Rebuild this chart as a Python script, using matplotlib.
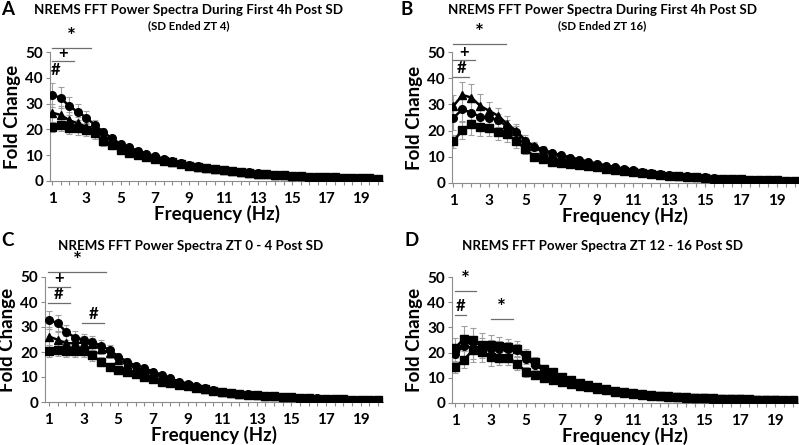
import numpy as np
import matplotlib
matplotlib.use("Agg")
import matplotlib.pyplot as plt

plt.rcParams['font.family'] = ['Lato', 'DejaVu Sans']
plt.rcParams['font.weight'] = 'bold'
WT = 'bold'

# frequency bins (Hz)
freq = np.arange(1, 20.5, 0.5)

# ---- panel A ----
a_circ = [33.3, 32.3, 29.0, 26.8, 24.5, 21.7, 18.9, 16.5, 14.3, 13.0, 11.8, 10.6, 9.6, 8.6, 7.8, 7.0, 6.3, 5.7, 5.2, 4.8,
          4.4, 4.0, 3.6, 3.3, 3.0, 2.7, 2.5, 2.3, 2.1, 1.9, 1.7, 1.6, 1.5, 1.4, 1.3, 1.2, 1.1, 1.0, 0.9]
a_circ_err = [4.5, 4.0, 3.5, 3.0, 2.5, 2.0, 1.8, 1.5, 1.3, 1.1, 1.0, 0.9, 0.8, 0.7, 0.6, 0.5, 0.5, 0.4, 0.4, 0.4,
              0.3, 0.3, 0.3, 0.3, 0.2, 0.2, 0.2, 0.2, 0.2, 0.2, 0.2, 0.1, 0.1, 0.1, 0.1, 0.1, 0.1, 0.1, 0.1]
a_tri = [26.5, 25.6, 23.6, 22.3, 21.0, 19.8, 17.5, 15.5, 13.6, 12.3, 11.1, 10.0, 9.1, 8.2, 7.5, 6.8, 6.1, 5.6, 5.1, 4.7,
         4.3, 3.9, 3.5, 3.2, 2.9, 2.6, 2.4, 2.2, 2.0, 1.8, 1.7, 1.6, 1.5, 1.4, 1.3, 1.2, 1.1, 1.0, 0.9]
a_tri_err = [3.5, 3.5, 3.0, 2.5, 2.5, 2.0, 1.8, 1.5, 1.3, 1.1, 1.0, 0.9, 0.8, 0.7, 0.6, 0.5, 0.5, 0.4, 0.4, 0.4,
             0.3, 0.3, 0.3, 0.3, 0.2, 0.2, 0.2, 0.2, 0.2, 0.2, 0.2, 0.1, 0.1, 0.1, 0.1, 0.1, 0.1, 0.1, 0.1]
a_sq = [21.0, 21.7, 20.7, 20.4, 19.8, 18.5, 15.5, 14.0, 12.2, 11.0, 10.0, 9.3, 8.6, 7.9, 7.2, 6.6, 6.0, 5.5, 5.0, 4.6,
        4.2, 3.8, 3.4, 3.1, 2.8, 2.6, 2.4, 2.2, 2.0, 1.8, 1.7, 1.6, 1.5, 1.4, 1.3, 1.2, 1.1, 1.0, 0.9]
a_sq_err = [2.0, 2.5, 2.5, 2.5, 2.5, 2.2, 1.8, 1.5, 1.3, 1.1, 1.0, 0.9, 0.8, 0.7, 0.6, 0.5, 0.5, 0.4, 0.4, 0.4,
            0.3, 0.3, 0.3, 0.3, 0.2, 0.2, 0.2, 0.2, 0.2, 0.2, 0.2, 0.1, 0.1, 0.1, 0.1, 0.1, 0.1, 0.1, 0.1]

# ---- panel B ----
b_tri = [29.4, 33.6, 32.6, 29.4, 27.5, 25.6, 22.4, 20.0, 16.2, 14.0, 12.7, 11.4, 10.6, 9.7, 8.9, 8.1, 7.3, 6.6, 6.0, 5.4,
         4.8, 4.3, 3.9, 3.5, 3.1, 2.8, 2.5, 2.3, 2.1, 1.9, 1.7, 1.6, 1.4, 1.3, 1.2, 1.1, 1.0, 0.9, 0.9]
b_tri_err = [4.0, 5.0, 5.0, 4.5, 3.5, 3.0, 3.0, 2.5, 2.0, 1.5, 1.3, 1.1, 1.0, 0.9, 0.8, 0.7, 0.6, 0.5, 0.5, 0.4,
             0.4, 0.3, 0.3, 0.3, 0.3, 0.2, 0.2, 0.2, 0.2, 0.2, 0.2, 0.1, 0.1, 0.1, 0.1, 0.1, 0.1, 0.1, 0.1]
b_circ = [24.9, 28.1, 26.8, 25.3, 25.0, 24.0, 21.5, 19.6, 16.0, 13.9, 12.6, 11.3, 10.5, 9.7, 8.9, 8.1, 7.3, 6.6, 6.0, 5.4,
          4.8, 4.3, 3.9, 3.5, 3.1, 2.8, 2.5, 2.3, 2.1, 1.9, 1.7, 1.6, 1.4, 1.3, 1.2, 1.1, 1.0, 0.9, 0.9]
b_circ_err = [4.5, 5.0, 4.0, 3.5, 3.0, 2.5, 2.5, 2.0, 1.5, 1.3, 1.1, 1.0, 0.9, 0.8, 0.7, 0.6, 0.5, 0.5, 0.4, 0.4,
              0.4, 0.3, 0.3, 0.3, 0.3, 0.2, 0.2, 0.2, 0.2, 0.2, 0.2, 0.1, 0.1, 0.1, 0.1, 0.1, 0.1, 0.1, 0.1]
b_sq = [16.0, 20.2, 22.4, 21.5, 20.9, 19.6, 18.6, 16.0, 13.0, 10.1, 9.0, 8.1, 7.5, 7.2, 6.8, 6.4, 6.0, 5.4, 4.9, 4.5,
        4.1, 3.7, 3.4, 3.1, 2.8, 2.5, 2.3, 2.1, 1.9, 1.7, 1.6, 1.5, 1.4, 1.3, 1.2, 1.1, 1.0, 0.9, 0.9]
b_sq_err = [2.5, 3.5, 4.0, 3.5, 3.0, 3.0, 3.0, 2.5, 1.8, 1.3, 1.1, 1.0, 0.9, 0.8, 0.7, 0.6, 0.5, 0.5, 0.4, 0.4,
            0.4, 0.3, 0.3, 0.3, 0.3, 0.2, 0.2, 0.2, 0.2, 0.2, 0.2, 0.1, 0.1, 0.1, 0.1, 0.1, 0.1, 0.1, 0.1]

# ---- panel C ----
c_circ = [32.8, 31.5, 28.0, 25.8, 24.9, 24.1, 22.5, 20.8, 18.2, 16.2, 14.6, 13.5, 12.2, 10.9, 9.5, 8.2, 7.3, 6.4, 5.6, 4.9,
          4.2, 3.8, 3.4, 3.1, 2.9, 2.6, 2.4, 2.2, 2.0, 1.8, 1.6, 1.5, 1.3, 1.2, 1.1, 1.0, 0.9, 0.9, 0.8]
c_circ_err = [3.5, 3.5, 3.0, 2.5, 2.5, 2.5, 2.5, 2.0, 1.5, 1.3, 1.1, 1.0, 0.9, 0.8, 0.7, 0.6, 0.5, 0.5, 0.4, 0.4,
              0.4, 0.3, 0.3, 0.3, 0.3, 0.2, 0.2, 0.2, 0.2, 0.2, 0.2, 0.1, 0.1, 0.1, 0.1, 0.1, 0.1, 0.1, 0.1]
c_tri = [26.2, 24.9, 23.5, 23.5, 23.8, 23.1, 21.2, 19.5, 17.0, 15.2, 13.8, 12.7, 11.5, 10.3, 9.0, 7.8, 7.0, 6.2, 5.4, 4.8,
         4.2, 3.8, 3.4, 3.1, 2.8, 2.6, 2.4, 2.2, 2.0, 1.8, 1.6, 1.5, 1.3, 1.2, 1.1, 1.0, 0.9, 0.9, 0.8]
c_tri_err = [4.0, 3.5, 3.0, 2.5, 2.5, 2.5, 2.0, 1.8, 1.5, 1.3, 1.1, 1.0, 0.9, 0.8, 0.7, 0.6, 0.5, 0.5, 0.4, 0.4,
             0.4, 0.3, 0.3, 0.3, 0.3, 0.2, 0.2, 0.2, 0.2, 0.2, 0.2, 0.1, 0.1, 0.1, 0.1, 0.1, 0.1, 0.1, 0.1]
c_sq = [20.5, 20.8, 20.5, 20.5, 20.5, 18.8, 16.1, 14.2, 13.0, 12.2, 11.3, 10.2, 9.2, 8.2, 7.6, 6.9, 6.5, 5.8, 5.1, 4.6,
        4.1, 3.7, 3.3, 3.0, 2.8, 2.5, 2.3, 2.1, 1.9, 1.7, 1.6, 1.4, 1.3, 1.2, 1.1, 1.0, 0.9, 0.8, 0.8]
c_sq_err = [2.5, 2.5, 2.5, 2.5, 2.5, 2.2, 1.8, 1.5, 1.3, 1.1, 1.0, 0.9, 0.8, 0.7, 0.6, 0.5, 0.5, 0.4, 0.4, 0.4,
            0.3, 0.3, 0.3, 0.3, 0.2, 0.2, 0.2, 0.2, 0.2, 0.2, 0.2, 0.1, 0.1, 0.1, 0.1, 0.1, 0.1, 0.1, 0.1]

# ---- panel D ----
d_top = [21.8, 25.5, 24.9, 23.1, 22.9, 22.6, 22.2, 21.6, 18.9, 16.3, 13.6, 12.2, 10.4, 9.0, 7.9, 7.0, 6.2, 5.4, 4.7, 4.2,
         3.8, 3.4, 3.1, 2.9, 2.7, 2.5, 2.3, 2.1, 1.9, 1.8, 1.7, 1.6, 1.5, 1.4, 1.3, 1.2, 1.1, 1.0, 1.0]
d_top_err = [4.0, 5.0, 5.0, 4.5, 4.0, 3.5, 3.0, 3.0, 2.5, 2.0, 1.5, 1.2, 1.0, 0.9, 0.8, 0.7, 0.6, 0.5, 0.5, 0.4,
             0.4, 0.3, 0.3, 0.3, 0.3, 0.2, 0.2, 0.2, 0.2, 0.2, 0.2, 0.1, 0.1, 0.1, 0.1, 0.1, 0.1, 0.1, 0.1]
d_circ = [19.6, 22.6, 21.8, 21.8, 21.6, 21.6, 21.6, 20.9, 17.6, 15.0, 13.0, 11.7, 10.0, 8.7, 7.7, 6.8, 6.0, 5.2, 4.5, 4.0,
          3.6, 3.3, 3.0, 2.8, 2.6, 2.4, 2.2, 2.0, 1.9, 1.8, 1.7, 1.6, 1.5, 1.4, 1.3, 1.2, 1.1, 1.0, 1.0]
d_circ_err = [3.5, 4.5, 4.5, 4.0, 3.5, 3.0, 2.5, 2.5, 2.0, 1.8, 1.5, 1.2, 1.0, 0.9, 0.8, 0.7, 0.6, 0.5, 0.5, 0.4,
              0.4, 0.3, 0.3, 0.3, 0.3, 0.2, 0.2, 0.2, 0.2, 0.2, 0.2, 0.1, 0.1, 0.1, 0.1, 0.1, 0.1, 0.1, 0.1]
d_bot = [14.3, 17.2, 20.9, 20.2, 18.3, 18.0, 18.0, 15.6, 12.3, 11.0, 10.0, 9.1, 8.3, 7.6, 6.9, 6.2, 5.6, 5.0, 4.4, 3.9,
         3.5, 3.2, 2.9, 2.7, 2.5, 2.3, 2.1, 2.0, 1.8, 1.7, 1.6, 1.5, 1.4, 1.3, 1.2, 1.1, 1.0, 0.9, 0.9]
d_bot_err = [2.5, 3.5, 4.5, 4.0, 3.5, 3.0, 3.0, 2.5, 2.0, 1.5, 1.2, 1.0, 0.9, 0.8, 0.7, 0.6, 0.5, 0.5, 0.4, 0.4,
             0.4, 0.3, 0.3, 0.3, 0.3, 0.2, 0.2, 0.2, 0.2, 0.2, 0.2, 0.1, 0.1, 0.1, 0.1, 0.1, 0.1, 0.1, 0.1]

# significance bars: (x start, x end, y of line, symbol); x start None -> symbol only
a_sig = [(1.0, 3.3, 51.7, '*'), (1.0, 2.3, 46.5, '+'), (None, 1.2, 40.0, '#')]
b_sig = [(1.0, 3.9, 53.2, '*'), (1.0, 2.2, 46.8, '+'), (1.0, 1.85, 40.5, '#')]
c_sig = [(0.95, 4.3, 52.0, '*'), (0.95, 2.2, 46.0, '+'), (0.95, 2.2, 39.8, '#'), (2.9, 4.2, 31.8, '#')]
d_sig = [(1.0, 2.2, 44.5, '*'), (1.0, 1.6, 35.0, '#'), (3.0, 4.25, 33.4, '*')]

panels = [
    dict(letter='A', title='NREMS FFT Power Spectra During First 4h Post SD', sub='(SD Ended ZT 4)',
         rect=[50 / 799, 1 - 181 / 445, 333 / 799, 129 / 445], xlim=(0.88, 20.3),
         series=[(a_circ, a_circ_err, 'o'), (a_tri, a_tri_err, '^'), (a_sq, a_sq_err, 's')], sig=a_sig,
         letter_xy=(1, 15), title_xy=(189, 14)),
    dict(letter='B', title='NREMS FFT Power Spectra During First 4h Post SD', sub='(SD Ended ZT 16)',
         rect=[452 / 799, 1 - 183 / 445, 346 / 799, 131 / 445], xlim=(0.92, 20.17),
         series=[(b_tri, b_tri_err, '^'), (b_circ, b_circ_err, 'o'), (b_sq, b_sq_err, 's')], sig=b_sig,
         letter_xy=(401, 15), title_xy=(602, 14)),
    dict(letter='C', title='NREMS FFT Power Spectra ZT 0 - 4 Post SD', sub=None,
         rect=[45 / 799, 1 - 402 / 445, 338 / 799, 125 / 445], xlim=(0.77, 20.29),
         series=[(c_circ, c_circ_err, 'o'), (c_tri, c_tri_err, '^'), (c_sq, c_sq_err, 's')], sig=c_sig,
         letter_xy=(1, 246), title_xy=(191, 250)),
    dict(letter='D', title='NREMS FFT Power Spectra ZT 12 - 16 Post SD', sub=None,
         rect=[452 / 799, 1 - 403 / 445, 346 / 799, 126 / 445], xlim=(0.83, 20.28),
         series=[(d_top, d_top_err, 's'), (d_circ, d_circ_err, 'o'), (d_bot, d_bot_err, 's')], sig=d_sig,
         letter_xy=(404, 246), title_xy=(602, 250)),
]

fig = plt.figure(figsize=(7.99, 4.45), dpi=100)
W, H = 799, 445
gray = '#8c8c8c'

for p in panels:
    ax = fig.add_axes(p['rect'])
    for vals, err, mk in p['series']:
        ax.errorbar(freq, vals, yerr=err, fmt='none', ecolor='#a0a0a0', elinewidth=0.8, capsize=2, capthick=0.8,
                    zorder=2)
    for vals, err, mk in p['series']:
        ax.plot(freq, vals, color='black', lw=1.8, marker=mk, ms=5.5 if mk != '^' else 6, zorder=3)

    ax.set_xlim(*p['xlim'])
    ax.set_ylim(0, 50)
    ax.set_yticks([0, 10, 20, 30, 40, 50])
    ax.set_xticks(freq)
    ax.set_xticklabels([str(int(f)) if (f == int(f) and int(f) % 2 == 1) else '' for f in freq])
    ax.tick_params(axis='both', colors=gray, labelcolor='black', labelsize=11, width=0.8)
    ax.tick_params(axis='x', length=3, pad=5)
    ax.tick_params(axis='y', length=3, pad=2)
    for lab in ax.get_xticklabels() + ax.get_yticklabels():
        lab.set_fontweight(WT)
    for s in ['top', 'right']:
        ax.spines[s].set_visible(False)
    for s in ['left', 'bottom']:
        ax.spines[s].set_color(gray)
        ax.spines[s].set_linewidth(0.8)
    ax.set_xlabel('Frequency (Hz)', fontsize=13.5, fontweight=WT, labelpad=-1)
    ax.set_ylabel('Fold Change', fontsize=13.5, fontweight=WT, labelpad=3)

    for x0, x1, y, sym in p['sig']:
        if x0 is None:
            ax.text(x1, y, sym, ha='center', va='bottom', fontsize=12, fontweight=WT, clip_on=False)
            continue
        ax.plot([x0, x1], [y, y], color='#6e6e6e', lw=0.9, clip_on=False, zorder=4)
        ax.text((x0 + x1) / 2, y + 0.2, sym, ha='center', va='bottom',
                fontsize=15 if sym == '*' else 12, fontweight=WT, clip_on=False)

    lx, ly = p['letter_xy']
    fig.text(lx / W, 1 - ly / H, p['letter'], fontsize=13.5, fontweight=WT, ha='left', va='baseline')
    tx, ty = p['title_xy']
    fig.text(tx / W, 1 - ty / H, p['title'], fontsize=9.6, fontweight=WT, ha='center', va='baseline')
    if p['sub']:
        fig.text(tx / W, 1 - (ty + 15) / H, p['sub'], fontsize=8.2, fontweight=WT, ha='center', va='baseline')

fig.savefig('out.png', dpi=100)
